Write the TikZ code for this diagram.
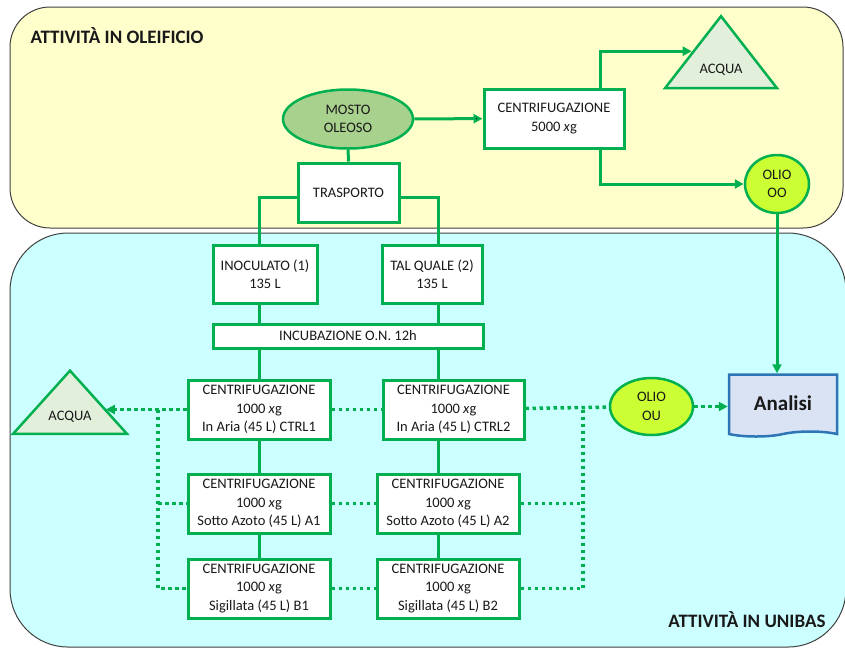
\documentclass[tikz,border=0pt]{standalone}
\usepackage{fontspec}
\setmainfont{Carlito}
\usetikzlibrary{shapes.geometric,shapes.symbols,arrows.meta}

\definecolor{olgreen}{HTML}{00B050}
\definecolor{oleifbg}{HTML}{FFFFCC}
\definecolor{unibasbg}{HTML}{CCFFFF}
\definecolor{regionline}{HTML}{404040}
\definecolor{mostofill}{HTML}{A9D18E}
\definecolor{oliofill}{HTML}{CCFF33}
\definecolor{acquafill}{HTML}{E2EFDA}
\definecolor{analfill}{HTML}{DAE3F3}
\definecolor{analdraw}{HTML}{2E75B6}

\begin{document}
\begin{tikzpicture}[x=1pt,y=-1pt,>={Triangle[length=9pt,width=9pt]},
    flow/.style={draw=olgreen,line width=3pt},
    dots/.style={draw=olgreen,line width=3.5pt,dash pattern=on 3.5pt off 3.5pt},
    box/.style={rectangle,draw=olgreen,line width=3pt,fill=white,align=center,inner sep=0pt},
    oval/.style={ellipse,draw=olgreen,line width=2.5pt,align=center,inner sep=0pt},
    tri/.style={isosceles triangle,shape border rotate=90,isosceles triangle stretches,
      draw=olgreen,line width=2.5pt,fill=acquafill,inner sep=0pt},
    region/.style={draw=regionline,line width=1pt},
    title/.style={font=\fontsize{19}{21}\selectfont\bfseries},
    every node/.style={font=\fontsize{14.5}{18.5}\selectfont,text=black!90}]
  \useasboundingbox (0,0) rectangle (845,649);

  % the two areas
  \path[region,fill=oleifbg,rounded corners=40pt] (10,7) rectangle (843,228);
  \path[region,fill=unibasbg,rounded corners=58pt] (10,233) rectangle (846,647);
  \node[title,anchor=west] (oleiftitle) at (27,36) {ATTIVITÀ IN OLEIFICIO};
  \node[title,anchor=east] (unibastitle) at (829,620) {ATTIVITÀ IN UNIBAS};

  % columns and buses
  \coordinate (col1) at (259,0);
  \coordinate (col2) at (438,0);
  \coordinate (tap) at (600,0);
  \coordinate (lbus) at (158,0);
  \coordinate (rbus) at (583,0);

  % oleificio
  \node[oval,fill=mostofill,minimum width=130pt,minimum height=59pt] (mosto) at (348,119) {MOSTO\\OLEOSO};
  \node[box,minimum width=101pt,minimum height=59pt] (trasp) at (348.5,192.5) {TRASPORTO};
  \node[box,minimum width=140pt,minimum height=59pt] (cent5) at (554,118.5) {CENTRIFUGAZIONE\\5000 \textit{x}g};
  \node[tri,minimum width=112pt,minimum height=72pt] (acquaol) at (721,70) {ACQUA};
  \node[oval,fill=oliofill,minimum width=64pt,minimum height=58pt] (olioo) at (777,184) {OLIO\\OO};

  % unibas
  \node[box,minimum width=104pt,minimum height=58pt] (inoc) at (265,274) {INOCULATO (1)\\135 L};
  \node[box,minimum width=100pt,minimum height=58pt] (talq) at (432,274) {TAL QUALE (2)\\135 L};
  \node[box,minimum width=270pt,minimum height=24pt] (incub) at (348,336) {INCUBAZIONE O.N. 12h};
  \node[box,minimum width=142pt,minimum height=59pt] (ctrl1) at (259,409.5) {CENTRIFUGAZIONE\\1000 \textit{x}g\\In Aria (45 L) CTRL1};
  \node[box,minimum width=141pt,minimum height=59pt] (ctrl2) at (453.5,409.5) {CENTRIFUGAZIONE\\1000 \textit{x}g\\In Aria (45 L) CTRL2};
  \node[box,minimum width=142pt,minimum height=59pt] (a1) at (259,503.5) {CENTRIFUGAZIONE\\1000 \textit{x}g\\Sotto Azoto (45 L) A1};
  \node[box,minimum width=142pt,minimum height=59pt] (a2) at (448,503.5) {CENTRIFUGAZIONE\\1000 \textit{x}g\\Sotto Azoto (45 L) A2};
  \node[box,minimum width=142pt,minimum height=59pt] (b1) at (259,588.5) {CENTRIFUGAZIONE\\1000 \textit{x}g\\Sigillata (45 L) B1};
  \node[box,minimum width=142pt,minimum height=59pt] (b2) at (448,588.5) {CENTRIFUGAZIONE\\1000 \textit{x}g\\Sigillata (45 L) B2};
  \node[tri,minimum width=114pt,minimum height=59pt] (acquaun) at (70,417) {ACQUA};
  \node[oval,fill=oliofill,minimum width=83pt,minimum height=57pt] (oliou) at (651.5,406.5) {OLIO\\OU};
  \node[tape,tape bend top=none,draw=analdraw,fill=analfill,line width=2.5pt,inner sep=0pt,
    minimum width=108pt,minimum height=62pt,font=\fontsize{21}{24}\selectfont\bfseries] (analisi) at (783,403) {Analisi};

  % solid connections
  \path[flow]
    (mosto) edge[->] (cent5)
    (mosto) edge (trasp)
    (col1 |- inoc.south) edge (col1 |- incub.north)
    (col2 |- talq.south) edge (col2 |- incub.north)
    (col1 |- incub.south) edge (col1 |- ctrl1.north)
    (col2 |- incub.south) edge (col2 |- ctrl2.north)
    (col1 |- ctrl1.south) edge (col1 |- a1.north)
    (col2 |- ctrl2.south) edge (col2 |- a2.north)
    (col1 |- a1.south) edge (col1 |- b1.north)
    (col2 |- a2.south) edge (col2 |- b2.north);
  \draw[flow] ([yshift=-5pt]trasp.west) -| (col1 |- inoc.north);
  \draw[flow] ([yshift=-5pt]trasp.east) -| (col2 |- talq.north);
  \draw[flow,->] (tap |- cent5.north) |- (acquaol.left side);
  \draw[flow,->] (tap |- cent5.south) |- (olioo);
  \draw[flow,->] (olioo) -- (olioo |- analisi.north);

  % dotted connections
  \draw[dots,->] (ctrl1) -- ([xshift=6pt]acquaun.right side |- ctrl1);
  \draw[dots] (lbus |- ctrl1) -- (lbus |- b1) -- (b1);
  \draw[dots] (lbus |- a1) -- (a1);
  \draw[dots] (ctrl1) -- (ctrl2);
  \draw[dots] (a1) -- (a2);
  \draw[dots] (b1) -- (b2);
  \draw[dots] (ctrl2) -- (oliou);
  \draw[dots] (rbus |- ctrl2) -- (rbus |- b2) -- (b2);
  \draw[dots] (a2) -- (rbus |- a2);
  \draw[dots,->] (oliou) -- (oliou -| analisi.west);
\end{tikzpicture}
\end{document}
